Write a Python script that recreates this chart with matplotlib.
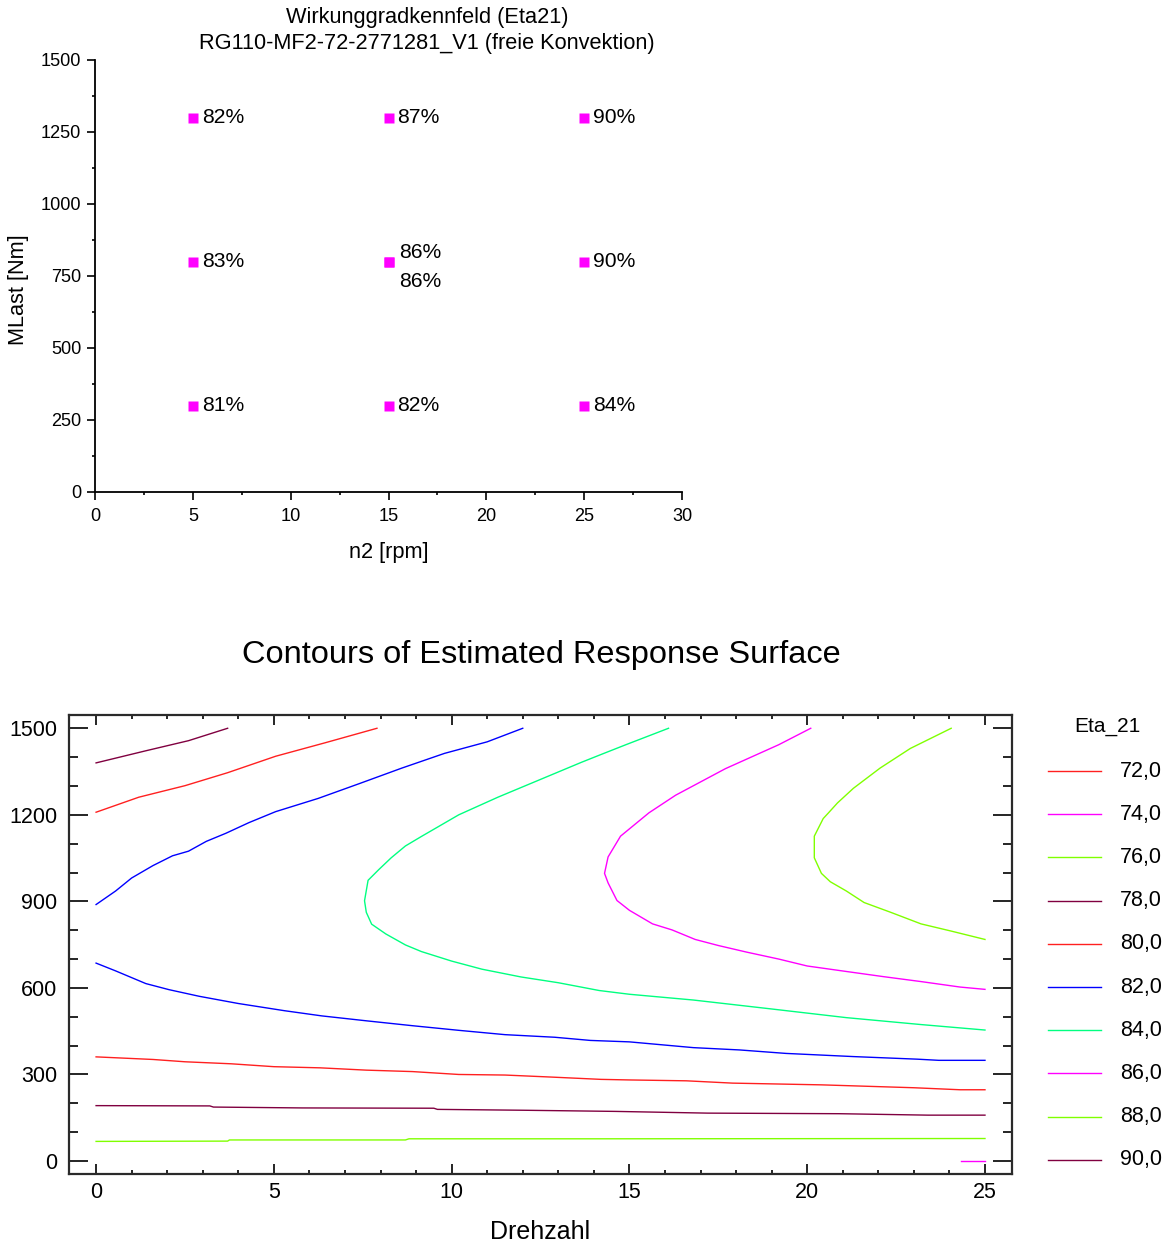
import matplotlib
matplotlib.use("Agg")
import matplotlib.pyplot as plt
from matplotlib import font_manager
from matplotlib.lines import Line2D
from matplotlib.ticker import MultipleLocator

# --- top chart: measured efficiency points ---
n2_pts = [5, 15, 25, 5, 15, 15, 25, 5, 15, 25]
mlast_pts = [1300, 1300, 1300, 800, 800, 800, 800, 300, 300, 300]
eta_pts = [82, 87, 90, 83, 86, 86, 90, 81, 82, 84]

# --- bottom chart: contour lines ---
levels = [72, 74, 76, 78, 80, 82, 84, 86, 88, 90]
level_colors = ['#ff2020', '#ff00ff', '#80ff00', '#800040', '#ff2020',
                '#0000ff', '#00ff80', '#ff00ff', '#80ff00', '#800040']

eta74_n = [24.33, 25.0]
eta74_m = [0, 0]

eta76_n = [0, 3.7, 3.75, 8.7, 8.8, 14.2, 25.0]
eta76_m = [68, 69, 73, 73, 77, 77, 78]

eta78_low_n = [0, 3.2, 3.3, 5.8, 9.5, 9.6, 12.0, 14.6, 17.2, 20.9, 23.4, 25.0]
eta78_low_m = [192, 191, 187, 184, 183, 179, 176, 172, 166, 164, 159, 159]
eta78_top_n = [0, 1.4, 2.6, 3.7]
eta78_top_m = [1380, 1422, 1457, 1500]

eta80_low_n = [0, 1.6, 2.5, 3.8, 5.0, 6.3, 7.6, 8.9, 10.2, 11.5, 12.8, 14.2,
               15.0, 16.6, 17.9, 20.4, 23.0, 24.3, 25.0]
eta80_low_m = [361, 352, 344, 337, 327, 323, 315, 310, 300, 298, 291, 283,
               281, 278, 270, 264, 254, 247, 247]
eta80_top_n = [0, 1.2, 2.5, 3.7, 5.05, 6.45, 7.9]
eta80_top_m = [1209, 1261, 1301, 1346, 1403, 1450, 1500]

eta82_low_n = [0, 0.55, 1.4, 2.05, 2.9, 4.0, 5.3, 6.35, 7.6, 8.9, 10.2, 11.5,
               12.9, 13.9, 15.0, 16.8, 18.1, 19.4, 21.3, 23.1, 23.7, 25.0]
eta82_low_m = [686, 659, 615, 594, 571, 546, 521, 503, 486, 469, 453, 438,
               429, 418, 413, 393, 385, 373, 362, 353, 349, 349]
eta82_top_n = [0, 0.55, 1.0, 1.6, 2.15, 2.6, 3.1, 3.65, 4.3, 5.05, 6.25, 7.4,
               8.6, 9.8, 11.0, 12.0]
eta82_top_m = [889, 936, 981, 1024, 1058, 1074, 1108, 1136, 1173, 1211, 1257,
               1308, 1362, 1413, 1453, 1500]

eta84_n = [16.1, 14.9, 14.2, 13.65, 11.3, 10.2, 9.15, 8.7, 8.3, 7.95,
           7.65, 7.55, 7.6, 7.75, 8.15, 8.7, 9.15, 10.0, 10.85, 11.95, 13.0,
           14.15, 15.0, 16.8, 19.0, 21.1, 23.2, 25.0]
eta84_m = [1500, 1443, 1409, 1382, 1261, 1200, 1125, 1092, 1051, 1010,
           973, 902, 862, 821, 787, 749, 726, 693, 665, 638, 618, 591, 578,
           558, 527, 497, 473, 454]

eta86_n = [20.1, 19.2, 17.7, 16.3, 15.55, 14.75, 14.4, 14.3, 14.4, 14.65,
           15.0, 15.65, 16.2, 16.85, 17.5, 18.3, 19.2, 20.0, 21.1, 22.15,
           23.2, 24.3, 25.0]
eta86_m = [1500, 1443, 1360, 1268, 1207, 1126, 1054, 997, 964, 903, 869, 822,
           801, 768, 747, 724, 700, 676, 657, 639, 622, 603, 595]

eta88_n = [24.05, 22.9, 22.05, 21.3, 20.85, 20.6, 20.45, 20.2, 20.2, 20.4,
           20.65, 21.1, 21.6, 22.35, 23.2, 24.05, 25.0]
eta88_m = [1500, 1430, 1362, 1292, 1241, 1207, 1187, 1126, 1051, 997, 968,
           936, 896, 862, 822, 797, 768]

segments = [
    (74, eta74_n, eta74_m),
    (76, eta76_n, eta76_m),
    (78, eta78_low_n, eta78_low_m),
    (78, eta78_top_n, eta78_top_m),
    (80, eta80_low_n, eta80_low_m),
    (80, eta80_top_n, eta80_top_m),
    (82, eta82_low_n, eta82_low_m),
    (82, eta82_top_n, eta82_top_m),
    (84, eta84_n, eta84_m),
    (86, eta86_n, eta86_m),
    (88, eta88_n, eta88_m),
]


def has_font(name):
    try:
        font_manager.findfont(name, fallback_to_default=False)
        return True
    except Exception:
        return False


narrow = has_font('Liberation Sans Narrow')
top_font = ['Liberation Sans Narrow', 'Liberation Sans'] if narrow else ['Liberation Sans']
scale = 1.0 if narrow else 0.87
plt.rcParams['font.family'] = ['Liberation Sans', 'DejaVu Sans']

W, H = 1175, 1243
fig = plt.figure(figsize=(W / 100, H / 100), dpi=100)


def px_box(x0, y0, x1, y1):
    return [x0 / W, 1 - y1 / H, (x1 - x0) / W, (y1 - y0) / H]


# ================= top chart =================
ax1 = fig.add_axes(px_box(95, 60, 682, 492))
ax1.plot(n2_pts, mlast_pts, 's', color='#ff00ff', ms=6.5, mec='none', ls='none')
seen = {}
for n, m, e in zip(n2_pts, mlast_pts, eta_pts):
    k = (n, m)
    cnt = sum(1 for a, b in zip(n2_pts, mlast_pts) if (a, b) == k)
    idx = seen.get(k, 0)
    seen[k] = idx + 1
    if cnt == 1:
        off = (6.5, 0)
    else:
        off = (7.5, 6.5) if idx == 0 else (7.5, -14)
    ax1.annotate(f"{e}%", (n, m), xytext=off, textcoords='offset points',
                 ha='left', va='center', fontsize=17.5 * scale, family=top_font)

ax1.set_xlim(0, 30)
ax1.set_ylim(0, 1500)
ax1.xaxis.set_major_locator(MultipleLocator(5))
ax1.xaxis.set_minor_locator(MultipleLocator(2.5))
ax1.yaxis.set_major_locator(MultipleLocator(250))
ax1.yaxis.set_minor_locator(MultipleLocator(125))
for s in ['top', 'right']:
    ax1.spines[s].set_visible(False)
for s in ['left', 'bottom']:
    ax1.spines[s].set_linewidth(1.3)
ax1.tick_params(which='major', direction='out', length=5.5, width=1.2)
ax1.tick_params(axis='x', which='major', pad=6)
ax1.tick_params(axis='y', which='major', pad=4.5)
ax1.tick_params(which='minor', direction='out', length=2.5, width=1.2)
for lab in ax1.get_xticklabels() + ax1.get_yticklabels():
    lab.set_fontsize(15 * scale)
    lab.set_family(top_font)
ax1.set_xlabel('n2 [rpm]', fontsize=18 * scale, family=top_font, labelpad=12)
ax1.set_ylabel('MLast [Nm]', fontsize=18 * scale, family=top_font)
ax1.yaxis.set_label_coords(-0.112, 0.468)
fig.text(427 / W, 1 - 18 / H, 'Wirkunggradkennfeld (Eta21)', ha='center', va='center',
         fontsize=18 * scale, family=top_font)
fig.text(427 / W, 1 - 44 / H, 'RG110-MF2-72-2771281_V1 (freie Konvektion)', ha='center',
         va='center', fontsize=18 * scale, family=top_font)

# ================= bottom chart =================
ax2 = fig.add_axes(px_box(68.7, 715, 1012, 1174))
color_of = dict(zip(levels, level_colors))
for lev, n, m in segments:
    ax2.plot(n, m, color=color_of[lev], lw=1.0, solid_joinstyle='round')

ax2.set_xlim(-0.77, 25.76)
ax2.set_ylim(-45, 1546)
ax2.xaxis.set_major_locator(MultipleLocator(5))
ax2.xaxis.set_minor_locator(MultipleLocator(1))
ax2.yaxis.set_major_locator(MultipleLocator(300))
ax2.yaxis.set_minor_locator(MultipleLocator(100))
for s in ax2.spines.values():
    s.set_linewidth(1.6)
    s.set_color('#2a2a2a')
ax2.tick_params(which='both', direction='in', top=True, right=True, width=1.2,
                labelsize=15.5, pad=8)
ax2.tick_params(axis='y', which='major', length=13.5)
ax2.tick_params(axis='y', which='minor', length=6.5)
ax2.tick_params(axis='x', which='major', length=7)
ax2.tick_params(axis='x', which='minor', length=3)
ax2.tick_params(axis='x', which='major', pad=6)
ax2.set_xlabel('Drehzahl', fontsize=18, labelpad=12)
fig.text(541 / W, 1 - 655 / H, 'Contours of Estimated Response Surface', ha='center',
         va='center', fontsize=23.4)

# legend
fig.text(1107 / W, 1 - 727 / H, 'Eta_21', ha='center', va='center', fontsize=15)
for i, (lev, col) in enumerate(zip(levels, level_colors)):
    yy = 1 - (771 + i * 43.2) / H
    fig.add_artist(Line2D([1048 / W, 1101 / W], [yy, yy], color=col, lw=1.0))
    fig.text(1162 / W, yy, f"{lev:.1f}".replace('.', ','), ha='right', va='center',
             fontsize=15.5)

fig.savefig('out.png', dpi=100)
